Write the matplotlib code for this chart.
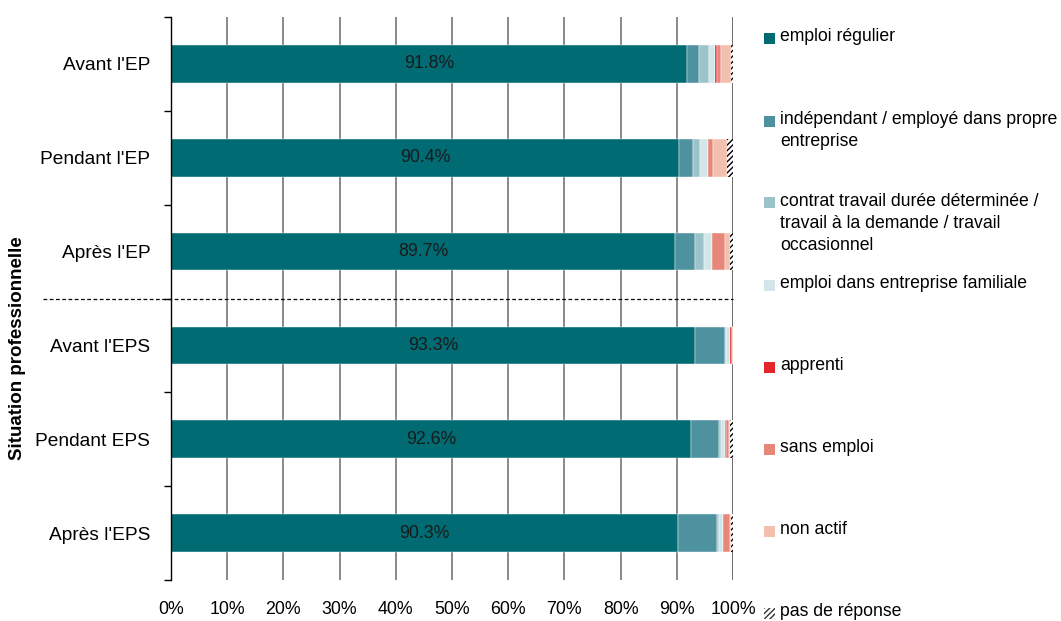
import numpy as np
import matplotlib
matplotlib.use("Agg")
import matplotlib.pyplot as plt
from matplotlib.patches import Rectangle
import matplotlib.transforms as mtransforms

plt.rcParams["font.family"] = ["Liberation Sans", "DejaVu Sans"]
plt.rcParams["hatch.linewidth"] = 1.0

# ------------------------------------------------------------------
# Data (percentages)
# ------------------------------------------------------------------

categories = ["Avant l'EP", "Pendant l'EP", "Après l'EP",
              "Avant l'EPS", "Pendant EPS", "Après l'EPS"]

emploi_regulier = [91.8, 90.4, 89.7, 93.3, 92.6, 90.3]
independant = [2.2, 2.4, 3.5, 5.2, 4.9, 6.8]
contrat = [1.8, 1.4, 1.7, 0.2, 0.4, 0.4]
familiale = [1.0, 1.4, 1.3, 0.7, 0.6, 0.7]
apprenti = [0.4, 0.0, 0.0, 0.4, 0.3, 0.0]
sans_emploi = [0.7, 0.9, 2.3, 0.1, 0.5, 1.3]
non_actif = [1.7, 2.5, 0.9, 0.1, 0.2, 0.2]
pas_de_reponse = [0.4, 1.0, 0.6, 0.0, 0.5, 0.3]

series = [emploi_regulier, independant, contrat, familiale,
          apprenti, sans_emploi, non_actif, pas_de_reponse]

series_labels = [
    "emploi régulier",
    "indépendant / employé dans propre\nentreprise",
    "contrat travail durée déterminée /\ntravail à la demande / travail\noccasionnel",
    "emploi dans entreprise familiale",
    "apprenti",
    "sans emploi",
    "non actif",
    "pas de réponse",
]

colors = ["#006b73", "#4f929f", "#9cc2ca", "#d2e6ea",
          "#e3262a", "#e6877a", "#f3bfae", "white"]

# ------------------------------------------------------------------
# Figure
# ------------------------------------------------------------------

W, H = 1061, 621
fig = plt.figure(figsize=(W / 100, H / 100), dpi=100)
ax = fig.add_axes([171 / W, 1 - 580 / H, (733 - 171) / W, (580 - 17) / H])

y = np.arange(len(categories))
left = np.zeros(len(categories))
for vals, col, lab in zip(series, colors, series_labels):
    vals = np.array(vals)
    if lab == "pas de réponse":
        ax.barh(y, vals, left=left, height=0.4, color=col,
                edgecolor="black", linewidth=0, hatch="//////", zorder=2)
    else:
        ax.barh(y, vals, left=left, height=0.4, color=col,
                edgecolor="white", linewidth=0.3, zorder=2)
    left += vals

# value labels in the first segment
for yi, v in zip(y, emploi_regulier):
    ax.text(v / 2, yi, f"{v:.1f}%", ha="center", va="center",
            fontsize=12.8, color="#1a1a1a", zorder=3)

ax.set_xlim(0, 100)
ax.set_ylim(len(categories) - 0.5, -0.5)

# x grid / ticks
ax.set_xticks(np.arange(0, 101, 10))
ax.set_xticklabels([f"{t}%" for t in range(0, 101, 10)], fontsize=12.8)
ax.tick_params(axis="x", length=0, pad=15)
ax.grid(axis="x", color="#808080", linewidth=1.3, zorder=0)
ax.set_axisbelow(True)
ax.axvline(100, color="black", linewidth=1.0, zorder=1)

# y ticks: labels at centres, marks at the boundaries
ax.set_yticks(y)
ax.set_yticklabels(categories, fontsize=13.8)
ax.tick_params(axis="y", which="major", length=0, pad=15)
ax.set_yticks(np.arange(-0.5, len(categories)), minor=True)
ax.tick_params(axis="y", which="minor", length=5, width=1, color="black")

for s in ["top", "right", "bottom"]:
    ax.spines[s].set_visible(False)
ax.spines["left"].set_color("black")
ax.spines["left"].set_linewidth(1.0)

# dashed separator between EP and EPS
trans = mtransforms.blended_transform_factory(ax.transAxes, ax.transData)
ax.plot([(43 - 171) / (733 - 171), 1.0], [2.5, 2.5], transform=trans,
        color="black", linestyle=(0, (3, 2)), linewidth=0.9, clip_on=False,
        zorder=4)

fig.text(18 / W, 1 - 348 / H, "Situation professionnelle", rotation=90,
         ha="center", va="center", fontsize=13.5, fontweight="bold")

# ------------------------------------------------------------------
# Legend (Excel-style, evenly spaced entries)
# ------------------------------------------------------------------

entry_tops = [38, 121, 203, 285, 367, 449, 531, 613]
for top, col, lab in zip(entry_tops, colors, series_labels):
    sq = 11
    if lab == "pas de réponse":
        rect = Rectangle((764 / W, 1 - (top + sq / 2) / H), sq / W, sq / H,
                         transform=fig.transFigure, facecolor="white",
                         edgecolor="#333333", linewidth=0, hatch="//////")
    else:
        rect = Rectangle((764 / W, 1 - (top + sq / 2) / H), sq / W, sq / H,
                         transform=fig.transFigure, facecolor=col,
                         edgecolor="none")
    fig.add_artist(rect)
    fig.text(780 / W, 1 - (top - 10) / H, lab, ha="left", va="top",
             fontsize=12.7, linespacing=1.38)

fig.savefig("out.png", dpi=100)
